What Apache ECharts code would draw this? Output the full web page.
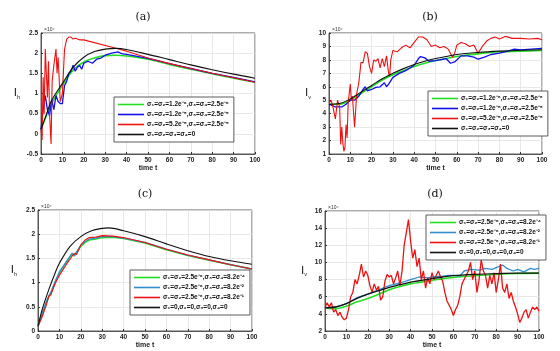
<!DOCTYPE html>
<html>
<head>
<meta charset="utf-8">
<script src="https://cdn.jsdelivr.net/npm/echarts@6/dist/echarts.min.js"></script>
<style>
  html, body { margin: 0; padding: 0; background: #fff; }
  #chart { width: 560px; height: 351px; }
</style>
</head>
<body>
<div id="chart"></div>
<script>
// ---- panel (a): I_h, values in 1e4 ----
const tSmoothA = [0, 2, 5, 10, 15, 20, 25, 30, 35, 40, 50, 60, 70, 80, 90, 100]
const blackA = [0.12, 0.4, 0.83, 1.25, 1.65, 1.9, 2.04, 2.1, 2.12, 2.09, 1.97, 1.84, 1.71, 1.59, 1.48, 1.38]
const greenA = [0.1, 0.38, 0.75, 1.2, 1.58, 1.78, 1.88, 1.94, 1.95, 1.93, 1.85, 1.72, 1.6, 1.49, 1.38, 1.28]
const tBlueA = [0, 1, 2, 3, 4, 5, 6, 7, 8, 9, 10, 11, 12, 13, 14, 15, 16, 17, 18, 19, 20, 22, 24, 26, 28, 30, 33, 36, 38, 40, 50, 60, 70, 80, 90, 100]
const blueA = [0.1, 0.6, 0.95, 0.6, 0.45, 0.85, 0.6, 0.95, 0.8, 0.75, 0.75, 1.2, 1.3, 1.5, 1.55, 1.7, 1.55, 1.65, 1.7, 1.6, 1.75, 1.8, 1.75, 1.85, 1.88, 1.95, 2.0, 2.03, 1.98, 1.97, 1.87, 1.74, 1.62, 1.5, 1.4, 1.29]
const tRedA = [0, 0.5, 1, 1.5, 2, 2.5, 3, 3.5, 4, 4.7, 5.2, 6, 7, 7.5, 8, 9, 10, 11, 12, 13, 14, 15, 16, 18, 20, 35, 40, 50, 60, 70, 80, 90, 100]
const redA = [0.1, -0.15, 1.4, 0.5, 2.1, 1.5, 0.9, 1.8, 0.5, -0.25, 1.3, 1.7, 2.1, 1.5, 1.9, 0.8, 1.0, 2.1, 2.35, 2.4, 2.4, 2.35, 2.37, 2.33, 2.33, 2.12, 2.05, 1.88, 1.74, 1.62, 1.5, 1.39, 1.28]

// ---- panel (b): I_v ----
const tSmoothB = [0, 5, 10, 15, 20, 25, 30, 35, 40, 45, 50, 55, 60, 70, 80, 90, 100]
const blackB = [4.7, 4.75, 5.1, 5.6, 6.1, 6.6, 7.0, 7.35, 7.65, 7.9, 8.1, 8.25, 8.4, 8.55, 8.65, 8.72, 8.75]
const greenB = [4.7, 4.7, 5.0, 5.5, 6.0, 6.5, 6.9, 7.2, 7.5, 7.75, 7.95, 8.1, 8.25, 8.45, 8.6, 8.65, 8.7]
const tBlueB = [0, 3, 6, 8, 10, 12, 14, 16, 17, 18, 20, 22, 24, 26, 27, 28, 30, 33, 36, 38, 40, 42, 43, 45, 47, 50, 52, 55, 57, 59, 62, 65, 68, 70, 73, 76, 80, 84, 87, 90, 95, 100]
const blueB = [4.7, 4.5, 4.5, 4.7, 5.0, 5.0, 5.3, 5.8, 6.0, 5.7, 5.8, 5.95, 6.0, 6.3, 6.0, 6.2, 6.7, 7.0, 7.2, 7.4, 7.6, 8.1, 8.25, 8.15, 7.9, 7.95, 8.0, 8.1, 7.75, 7.85, 8.3, 8.3, 8.2, 8.05, 8.2, 8.4, 8.5, 8.65, 8.8, 8.75, 8.8, 8.85]
const tRedB = [0, 1, 2, 3, 4, 5, 5.5, 6, 6.5, 7, 7.5, 8, 8.5, 9, 10, 10.5, 11, 12, 12.5, 13, 14, 15, 16, 17, 18, 19, 20, 21, 22, 23, 24, 25, 26, 27, 28, 28.5, 29, 30, 32, 34, 36, 38, 40, 42, 44, 46, 48, 50, 52, 54, 56, 58, 59, 60, 62, 64, 66, 68, 70, 72, 74, 76, 78, 80, 83, 86, 90, 94, 98, 100]
const redB = [4.8, 5.0, 4.4, 3.6, 5.0, 4.5, 1.7, 3.0, 1.8, 1.2, 1.5, 3.2, 2.2, 4.8, 6.2, 5.0, 5.3, 3.0, 4.2, 5.5, 6.3, 7.8, 7.8, 8.6, 8.5, 7.5, 7.0, 8.0, 7.9, 8.1, 7.4, 8.1, 7.5, 8.3, 7.0, 6.8, 8.0, 8.7, 8.6, 8.9, 9.1, 8.9, 9.3, 9.7, 9.7, 9.5, 9.0, 9.1, 8.9, 9.0, 8.8, 8.2, 8.5, 9.1, 9.3, 9.2, 9.0, 9.1, 8.5, 9.0, 9.4, 9.6, 9.7, 9.55, 9.75, 9.6, 9.6, 9.55, 9.6, 9.5]

// ---- panel (c): I_h ----
const tSmoothC = [0, 2, 5, 8, 10, 15, 20, 25, 30, 33, 40, 50, 60, 70, 80, 90, 100]
const blackC = [0.1, 0.45, 0.85, 1.2, 1.4, 1.75, 1.95, 2.07, 2.12, 2.13, 2.07, 1.95, 1.8, 1.66, 1.54, 1.45, 1.38]
const tNoisyC = [0, 2, 4, 5, 6, 8, 10, 13, 16, 17, 18, 20, 22, 24, 27, 30, 35, 40, 50, 60, 70, 80, 90, 100]
const greenC = [0.1, 0.35, 0.6, 0.7, 0.78, 1.0, 1.2, 1.4, 1.6, 1.55, 1.62, 1.75, 1.83, 1.88, 1.9, 1.93, 1.94, 1.91, 1.82, 1.68, 1.56, 1.46, 1.37, 1.28]
const blueC = [0.1, 0.36, 0.62, 0.72, 0.8, 1.02, 1.22, 1.42, 1.61, 1.56, 1.63, 1.77, 1.85, 1.9, 1.92, 1.95, 1.95, 1.92, 1.83, 1.69, 1.57, 1.47, 1.37, 1.28]
const redC = [0.1, 0.3, 0.55, 0.72, 0.75, 0.98, 1.15, 1.36, 1.55, 1.6, 1.58, 1.78, 1.88, 1.93, 1.94, 1.97, 1.96, 1.93, 1.83, 1.69, 1.57, 1.47, 1.37, 1.28]

// ---- panel (d): I_v ----
const tSmoothD = [0, 5, 10, 15, 20, 25, 30, 35, 40, 45, 50, 55, 60, 70, 80, 90, 100]
const blackD = [4.7, 4.8, 5.2, 5.8, 6.3, 6.7, 7.1, 7.4, 7.7, 7.9, 8.1, 8.3, 8.45, 8.6, 8.7, 8.75, 8.75]
const greenD = [4.7, 4.6, 4.9, 5.4, 5.8, 6.3, 6.8, 7.2, 7.5, 7.7, 7.9, 8.1, 8.25, 8.45, 8.6, 8.7, 8.75]
const tBlueD = [0, 5, 10, 15, 20, 25, 30, 35, 40, 44, 48, 50, 55, 58, 60, 63, 65, 68, 72, 75, 78, 80, 83, 85, 88, 90, 93, 96, 98, 100]
const blueD = [4.7, 4.8, 5.2, 5.9, 6.3, 6.8, 7.3, 7.6, 8.0, 8.3, 8.2, 8.3, 8.4, 8.5, 8.5, 8.4, 9.0, 9.2, 9.1, 9.3, 9.2, 9.4, 9.7, 9.3, 9.0, 9.2, 8.9, 9.3, 9.2, 9.3]
const tRedD = [0, 1, 2, 3, 4, 5, 6, 7, 8, 9, 10, 11, 12, 13, 14, 15, 16, 17, 18, 19, 20, 21, 22, 23, 24, 25, 26, 27, 28, 29, 30, 31, 32, 33, 34, 35, 36, 37, 38, 39, 40, 41, 42, 43, 44, 45, 46, 47, 48, 49, 50, 51, 52, 53, 54, 55, 56, 57, 58, 59, 60, 61, 62, 63, 64, 65, 66, 67, 68, 69, 70, 71, 72, 73, 74, 75, 76, 77, 78, 79, 80, 81, 82, 83, 84, 85, 86, 87, 88, 89, 90, 91, 92, 93, 94, 95, 96, 97, 98, 99, 100]
const redD = [4.7, 5.3, 4.8, 5.3, 4.2, 4.5, 3.8, 4.2, 3.6, 3.3, 3.5, 4.5, 6.0, 6.5, 8.0, 7.5, 8.5, 9.8, 8.3, 9.0, 8.5, 7.3, 6.5, 7.5, 6.8, 7.2, 5.6, 6.0, 7.8, 8.6, 8.3, 8.5, 7.5, 8.2, 9.0, 7.3, 9.0, 12.0, 13.5, 15.0, 12.5, 10.5, 11.5, 9.5, 10.5, 8.0, 9.0, 7.0, 8.2, 7.5, 8.8, 8.0, 8.5, 9.0, 8.3, 7.8, 6.5, 5.5, 5.0, 4.5, 3.8, 4.5, 5.0, 6.0, 7.5, 8.0, 8.5, 9.0, 10.0, 8.0, 9.0, 6.5, 8.0, 10.3, 9.0, 8.5, 7.0, 8.5, 7.5, 8.8, 6.5, 8.0, 9.8, 7.0, 6.5, 7.5, 5.8, 6.5, 5.5, 4.8, 4.0, 3.0, 3.5, 4.2, 4.5, 3.5, 4.2, 4.8, 4.5, 4.8, 4.3]

// legend labels
const namesAB = ['σ₁=σ₂=1.2e⁻⁶,σ₃=σ₄=2.5e⁻⁶', 'σ₁=σ₂=1.2e⁻⁵,σ₃=σ₄=2.5e⁻⁵', 'σ₁=σ₂=5.2e⁻⁵,σ₃=σ₄=2.5e⁻⁵', 'σ₁=σ₂=σ₃=σ₄=0']
const namesCD = ['σ₁=σ₂=2.5e⁻⁶,σ₃=σ₄=8.2e⁻⁴', 'σ₁=σ₂=2.5e⁻⁶,σ₃=σ₄=8.2e⁻²', 'σ₁=σ₂=2.5e⁻⁶,σ₃=σ₄=8.2e⁻¹', 'σ₁=0,σ₂=0,σ₃=0,σ₄=0']

const pairs = (t, v) => t.map((x, i) => [x, v[i]])

let chart = echarts.init(document.getElementById('chart'))

const grids = [
  { left: 41, top: 33, width: 214, height: 121 },
  { left: 329, top: 33, width: 213, height: 121 },
  { left: 38, top: 210, width: 214, height: 121 },
  { left: 325, top: 211, width: 214, height: 120 }
]
const yRanges = [[-0.5, 2.5, 0.5], [1, 10, 1], [0, 2.5, 0.5], [2, 16, 2]]
const yNames = ['h', 'v', 'h', 'v']

let makeX = (i) => ({
  type: 'value',
  gridIndex: i,
  min: 0,
  max: 100,
  interval: 10,
  name: 'time t',
  nameLocation: 'middle',
  nameGap: 11,
  nameTextStyle: { fontSize: 7, fontWeight: 'bold', color: '#222' },
  axisLine: { show: true, onZero: false, lineStyle: { color: '#333', width: 0.8 } },
  axisTick: { inside: true, length: 2, lineStyle: { color: '#333' } },
  axisLabel: { fontSize: 6.5, fontWeight: 'bold', color: '#222', margin: 3 },
  splitLine: { show: true, lineStyle: { color: '#e2e2e2', width: 0.8 } }
})
let makeY = (i) => ({
  type: 'value',
  gridIndex: i,
  min: yRanges[i][0],
  max: yRanges[i][1],
  interval: yRanges[i][2],
  name: '{i|I}{s|' + yNames[i] + '}',
  nameLocation: 'middle',
  nameRotate: 0,
  nameGap: i === 0 || i === 2 ? 21 : 18,
  nameTextStyle: {
    rich: {
      i: { fontSize: 11, fontFamily: 'DejaVu Sans', color: '#222' },
      s: { fontSize: 5.5, color: '#222', verticalAlign: 'bottom', padding: [7, 0, 0, 0] }
    }
  },
  axisLine: { show: true, lineStyle: { color: '#333', width: 0.8 } },
  axisTick: { inside: true, length: 2, lineStyle: { color: '#333' } },
  axisLabel: { fontSize: 6.5, fontWeight: 'bold', color: '#222', margin: 3 },
  splitLine: { show: true, lineStyle: { color: '#e2e2e2', width: 0.8 } }
})

let line = (name, idx, data, color, width, smooth) => ({
  name: name,
  type: 'line',
  xAxisIndex: idx,
  yAxisIndex: idx,
  data: data,
  symbol: 'none',
  smooth: smooth ? 0.35 : false,
  lineStyle: { color: color, width: width },
  itemStyle: { color: color },
  animation: false
})

let makeLegend = (names, left, top, w) => ({
  data: names,
  orient: 'vertical',
  left: left,
  top: top,
  width: w,
  icon: 'rect',
  itemWidth: 26,
  itemHeight: 1.6,
  itemGap: 3,
  padding: [4, 5, 4, 4],
  backgroundColor: '#fff',
  borderColor: '#333',
  borderWidth: 0.8,
  borderRadius: 0,
  textStyle: { fontSize: 6.5, fontWeight: 'bold', color: '#111', padding: [0, 0, 0, -2] },
  selectedMode: false
})

let options = {
  backgroundColor: '#fff',
  title: [
    { text: '(a)', left: 138, top: 7, textAlign: 'center' },
    { text: '(b)', left: 425, top: 7, textAlign: 'center' },
    { text: '(c)', left: 140, top: 184, textAlign: 'center' },
    { text: '(d)', left: 430, top: 184, textAlign: 'center' }
  ].map(t => Object.assign(t, { textStyle: { fontSize: 11, fontWeight: 'normal', fontFamily: 'DejaVu Serif', color: '#111' } })),
  grid: grids.map(g => Object.assign({ show: true, borderColor: '#333', borderWidth: 0.8, backgroundColor: 'transparent' }, g)),
  xAxis: [0, 1, 2, 3].map(makeX),
  yAxis: [0, 1, 2, 3].map(makeY),
  legend: [
    makeLegend(namesAB, 114, 97, 124),
    makeLegend(namesAB, 428, 91, 109),
    makeLegend(namesCD, 130, 270, 121),
    makeLegend(namesCD, 426, 215, 112)
  ],
  graphic: grids.map(g => ({
    type: 'text',
    left: g.left + 3,
    top: g.top - 6,
    style: { text: '×10⁴', fontSize: 5, fill: '#333' }
  })),
  series: [
    line(namesAB[0], 0, pairs(tSmoothA, greenA), '#22dd22', 1.6, true),
    line(namesAB[1], 0, pairs(tBlueA, blueA), '#1010ee', 1.3, false),
    line(namesAB[2], 0, pairs(tRedA, redA), '#ee1111', 1.1, false),
    line(namesAB[3], 0, pairs(tSmoothA, blackA), '#111111', 1.1, true),

    line(namesAB[0], 1, pairs(tSmoothB, greenB), '#22dd22', 1.6, true),
    line(namesAB[1], 1, pairs(tBlueB, blueB), '#1010ee', 1.3, false),
    line(namesAB[2], 1, pairs(tRedB, redB), '#ee1111', 1.1, false),
    line(namesAB[3], 1, pairs(tSmoothB, blackB), '#111111', 1.1, true),

    line(namesCD[0], 2, pairs(tNoisyC, greenC), '#22dd22', 1.6, false),
    line(namesCD[1], 2, pairs(tNoisyC, blueC), '#2f8fd0', 1.3, false),
    line(namesCD[2], 2, pairs(tNoisyC, redC), '#ee1111', 1.1, false),
    line(namesCD[3], 2, pairs(tSmoothC, blackC), '#111111', 1.1, true),

    line(namesCD[0], 3, pairs(tSmoothD, greenD), '#22dd22', 1.6, true),
    line(namesCD[1], 3, pairs(tBlueD, blueD), '#2f8fd0', 1.3, false),
    line(namesCD[2], 3, pairs(tRedD, redD), '#ee1111', 1.3, false),
    line(namesCD[3], 3, pairs(tSmoothD, blackD), '#111111', 1.3, true)
  ]
}
chart.setOption(options)
</script>
</body>
</html>
